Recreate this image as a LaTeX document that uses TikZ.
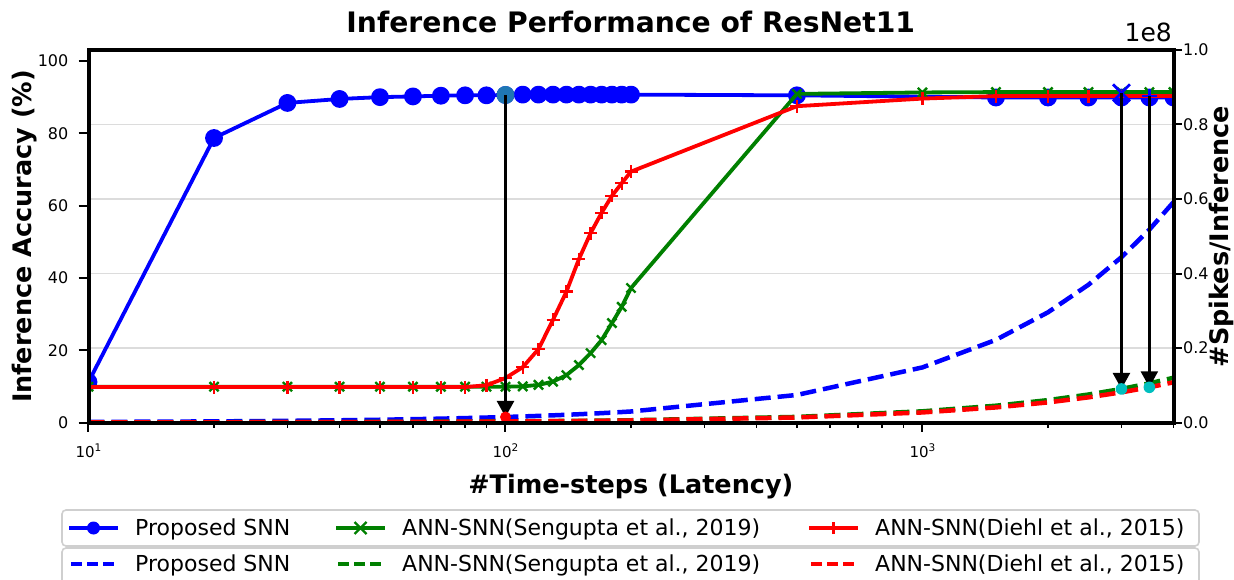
\documentclass[tikz,border=0pt]{standalone}
\usepackage{fontspec}
\setmainfont{DejaVu Sans}
\usetikzlibrary{arrows.meta,calc}
\definecolor{mblue}{HTML}{0000FF}
\definecolor{mgreen}{HTML}{008000}
\definecolor{mred}{HTML}{FF0000}
\definecolor{msteel}{HTML}{1F77B4}
\definecolor{mcyan}{HTML}{00BFBF}
\definecolor{mgrid}{HTML}{DCDCDC}
\definecolor{mleg}{HTML}{CFCFCF}
\tikzset{
  accline/.style={line width=3.8pt, line join=round},
  bluesolid/.style={accline, mblue, mark=*, mark size=7pt, mark options={fill=mblue, draw=none}},
  greensolid/.style={accline, mgreen, mark=x, mark size=6.5pt, mark options={line width=2.4pt}},
  redsolid/.style={accline, mred, mark=+, mark size=6.5pt, mark options={line width=2.4pt}},
  spk/.style={line width=4.5pt, dash pattern=on 16pt off 7pt},
  legdash/.style={line width=4pt, dash pattern=on 11pt off 5pt},
  spine/.style={line width=4pt, black},
  majtick/.style={line width=2pt, black},
  mintick/.style={line width=1.5pt, black},
  ticklab/.style={font=\fontsize{16}{18}\selectfont, inner sep=0pt},
  xticklab/.style={font=\fontsize{15}{17}\selectfont, inner sep=0pt, anchor=base},
  axlab/.style={font=\fontsize{25.5}{28}\selectfont\bfseries, inner sep=0pt, anchor=base},
  legtext/.style={font=\fontsize{22}{24}\selectfont, inner sep=0pt, anchor=base west},
  legbox/.style={draw=mleg, line width=1.6pt, fill=white, rounded corners=4pt},
  annarrow/.style={black, line width=2.4pt, -{Triangle[length=16pt,width=17pt]}},
}
\newcommand{\expten}[1]{10\raisebox{6pt}{\fontsize{10.5}{11}\selectfont #1}}
\begin{document}
\begin{tikzpicture}[x=1pt,y=1pt,
  declare function={px(\t)=88.5+417*(log10(\t)-1); ay(\a)=156.5+3.615*\a; sy(\s)=156.5+372.5*\s;}]
\useasboundingbox (0,0) rectangle (1234,579);

% grid lines (right axis)
\foreach \v in {0.2,0.4,0.6,0.8}
  \draw[mgrid, line width=1.5pt] (88.5,{sy(\v)}) -- (1173.5,{sy(\v)});

\begin{scope}
\clip (88.5,156.5) rectangle (1173.5,528.8);
% accuracy curves
\draw[bluesolid] plot coordinates {({px(10)},{ay(11.2)}) ({px(20)},{ay(78.7)}) ({px(30)},{ay(88.4)}) ({px(40)},{ay(89.5)}) ({px(50)},{ay(90.0)}) ({px(60)},{ay(90.2)}) ({px(70)},{ay(90.4)}) ({px(80)},{ay(90.5)}) ({px(90)},{ay(90.5)}) ({px(100)},{ay(90.6)}) ({px(110)},{ay(90.7)}) ({px(120)},{ay(90.7)}) ({px(130)},{ay(90.7)}) ({px(140)},{ay(90.7)}) ({px(150)},{ay(90.7)}) ({px(160)},{ay(90.7)}) ({px(170)},{ay(90.7)}) ({px(180)},{ay(90.7)}) ({px(190)},{ay(90.7)}) ({px(200)},{ay(90.7)}) ({px(500)},{ay(90.5)}) ({px(1500)},{ay(89.9)}) ({px(2000)},{ay(89.9)}) ({px(2500)},{ay(89.9)}) ({px(3000)},{ay(89.9)}) ({px(3500)},{ay(89.9)}) ({px(4000)},{ay(89.9)})};
\draw[greensolid] plot coordinates {({px(10)},{ay(9.9)}) ({px(20)},{ay(9.9)}) ({px(30)},{ay(9.9)}) ({px(40)},{ay(9.9)}) ({px(50)},{ay(9.9)}) ({px(60)},{ay(9.9)}) ({px(70)},{ay(9.9)}) ({px(80)},{ay(9.9)}) ({px(90)},{ay(9.9)}) ({px(100)},{ay(9.9)}) ({px(110)},{ay(10.0)}) ({px(120)},{ay(10.4)}) ({px(130)},{ay(11.3)}) ({px(140)},{ay(13.1)}) ({px(150)},{ay(15.9)}) ({px(160)},{ay(19.2)}) ({px(170)},{ay(22.8)}) ({px(180)},{ay(27.5)}) ({px(190)},{ay(32.0)}) ({px(200)},{ay(37.2)}) ({px(500)},{ay(90.9)}) ({px(1000)},{ay(91.3)}) ({px(1500)},{ay(91.4)}) ({px(2000)},{ay(91.4)}) ({px(2500)},{ay(91.4)}) ({px(3000)},{ay(91.4)}) ({px(3500)},{ay(91.4)}) ({px(4000)},{ay(91.4)})};
\draw[redsolid] plot coordinates {({px(10)},{ay(9.8)}) ({px(20)},{ay(9.8)}) ({px(30)},{ay(9.8)}) ({px(40)},{ay(9.8)}) ({px(50)},{ay(9.8)}) ({px(60)},{ay(9.8)}) ({px(70)},{ay(9.8)}) ({px(80)},{ay(9.8)}) ({px(90)},{ay(10.3)}) ({px(100)},{ay(12.3)}) ({px(110)},{ay(15.3)}) ({px(120)},{ay(20.3)}) ({px(130)},{ay(28.4)}) ({px(140)},{ay(36.2)}) ({px(150)},{ay(45.2)}) ({px(160)},{ay(52.4)}) ({px(170)},{ay(58.0)}) ({px(180)},{ay(62.7)}) ({px(190)},{ay(66.2)}) ({px(200)},{ay(69.4)}) ({px(500)},{ay(87.5)}) ({px(1000)},{ay(89.6)}) ({px(1500)},{ay(90.3)}) ({px(2000)},{ay(90.3)}) ({px(2500)},{ay(90.3)}) ({px(3000)},{ay(90.3)}) ({px(3500)},{ay(90.3)}) ({px(4000)},{ay(90.3)})};
% spikes curves
\draw[spk, mblue] ({px(10)},{156.5+0.0551*10}) foreach \t in {20,30,40,50,60,70,80,90,100,110,120,130,140,150,160,170,180,190,200,500,1000,1500,2000,2500,3000,3500,4000} { -- ({px(\t)},{156.5+0.0551*\t}) };
\draw[spk, mgreen] ({px(10)},{156.5+0.01118*10}) foreach \t in {20,30,40,50,60,70,80,90,100,110,120,130,140,150,160,170,180,190,200,500,1000,1500,2000,2500,3000,3500,4000} { -- ({px(\t)},{156.5+0.01118*\t}) };
\draw[spk, mred] ({px(10)},{156.5+0.01006*10}) foreach \t in {20,30,40,50,60,70,80,90,100,110,120,130,140,150,160,170,180,190,200,500,1000,1500,2000,2500,3000,3500,4000} { -- ({px(\t)},{156.5+0.01006*\t}) };
\end{scope}

% highlighted points
\coordinate (pa) at ({px(100)},{ay(90.6)});
\coordinate (pb) at ({px(3000)},{ay(91.2)});
\coordinate (pc) at ({px(3500)},{ay(90.3)});
\coordinate (da) at ({px(100)},{156.5+0.0551*100});
\coordinate (db) at ({px(3000)},{156.5+0.01118*3000});
\coordinate (dc) at ({px(3500)},{156.5+0.01006*3500});
\fill[msteel] (pa) circle (9pt);
\draw[mblue, line width=2.8pt] ($(pb)+(-8.5,-8.5)$) -- ($(pb)+(8.5,8.5)$) ($(pb)+(-8.5,8.5)$) -- ($(pb)+(8.5,-8.5)$);
\draw[mblue, line width=2.8pt] ($(pc)+(-7.5,0)$) -- ($(pc)+(7.5,0)$) ($(pc)+(0,-7.5)$) -- ($(pc)+(0,7.5)$);
\draw[annarrow] (pa) -- (da);
\draw[annarrow] (pb) -- (db);
\draw[annarrow] (pc) -- (dc);
\fill[mred] (da) circle (5.5pt);
\fill[mcyan] (db) circle (5.8pt);
\fill[mcyan] (dc) circle (5.8pt);

% spines
\draw[spine] (88.5,156.5) rectangle (1173.5,528.8);

% left ticks
\foreach \v in {0,20,40,60,80,100} {
  \draw[majtick] (78.5,{ay(\v)}) -- (88.5,{ay(\v)});
  \node[ticklab, anchor=east] at (68.5,{ay(\v)}) {\v};
}
% right ticks
\foreach \v/\l in {0/0.0,0.2/0.2,0.4/0.4,0.6/0.6,0.8/0.8,1.0/1.0} {
  \draw[majtick] (1173.5,{sy(\v)}) -- (1181.5,{sy(\v)});
  \node[ticklab, anchor=west] at (1183,{sy(\v)}) {\l};
}
% bottom ticks
\foreach \t in {10,100,1000}
  \draw[majtick] ({px(\t)},156.5) -- ({px(\t)},147);
\foreach \t in {20,30,40,50,60,70,80,90,200,300,400,500,600,700,800,900,2000,3000,4000}
  \draw[mintick] ({px(\t)},156.5) -- ({px(\t)},151);
\node[xticklab] (xl1) at ({px(10)},121.5) {\expten{1}};
\node[xticklab] (xl2) at ({px(100)},121.5) {\expten{2}};
\node[xticklab] (xl3) at ({px(1000)},121.5) {\expten{3}};

% labels
\node[font=\fontsize{28.2}{30}\selectfont\bfseries, anchor=base, inner sep=0pt] (title) at (630.8,546) {Inference Performance of ResNet11};
\node[font=\fontsize{25}{28}\selectfont, anchor=base east, inner sep=0pt] (offs) at (1172,537.5) {1e8};
\node[axlab] (xlab) at (630.8,86) {\#Time-steps (Latency)};
\node[axlab, rotate=90] (ylab) at (31.5,342.5) {Inference Accuracy (\%)};
\node[axlab, rotate=90] (y2lab) at (1228.5,342.5) {\#Spikes/Inference};

% legend
\begin{scope}
\clip (0,0) rectangle (1234,579);
\draw[legbox] (62,69) rectangle (1199,33);
\draw[legbox] (62,31) rectangle (1199,-8);
\end{scope}
\draw[accline, mblue] (69,51) -- (118,51);
\fill[mblue] (93.5,51) circle (6.5pt);
\node[legtext] (lg1) at (135,44) {Proposed SNN};
\draw[accline, mgreen] (336,51) -- (385,51);
\draw[mgreen, line width=2.4pt] (354.5,45) -- (366.5,57) (354.5,57) -- (366.5,45);
\node[legtext] (lg2) at (402,44) {ANN-SNN(Sengupta et al., 2019)};
\draw[accline, mred] (809,51) -- (858,51);
\draw[mred, line width=2.4pt] (827.5,51) -- (839.5,51) (833.5,45) -- (833.5,57);
\node[legtext] (lg3) at (875,44) {ANN-SNN(Diehl et al., 2015)};

\draw[legdash, mblue] (71,15) -- (117,15);
\node[legtext] (lg4) at (135,8) {Proposed SNN};
\draw[legdash, mgreen] (338,15) -- (384,15);
\node[legtext] (lg5) at (402,8) {ANN-SNN(Sengupta et al., 2019)};
\draw[legdash, mred] (811,15) -- (857,15);
\node[legtext] (lg6) at (875,8) {ANN-SNN(Diehl et al., 2015)};
\end{tikzpicture}
\end{document}
